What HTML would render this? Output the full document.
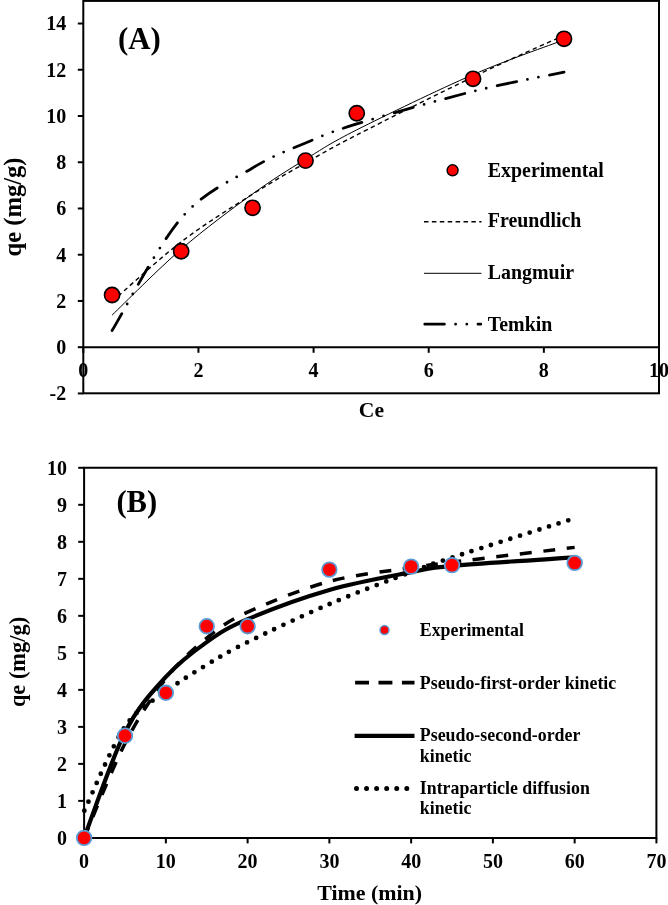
<!DOCTYPE html>
<html><head><meta charset="utf-8"><style>
html,body{margin:0;padding:0;background:#fff;width:668px;height:905px;overflow:hidden}
svg{display:block}
svg{will-change:transform}
</style></head><body>
<svg width="668" height="905" viewBox="0 0 668 905">
<rect width="668" height="905" fill="#fff"/>
<rect x="83.30" y="0.9" width="575.70" height="392.40" fill="none" stroke="#000" stroke-width="2"/>
<line x1="83.30" y1="347.20" x2="659" y2="347.20" stroke="#000" stroke-width="2"/>
<line x1="77.8" y1="393.44" x2="83.30" y2="393.44" stroke="#000" stroke-width="2"/>
<text x="66.2" y="400.24" text-anchor="end" style="font-family:'Liberation Serif',serif;font-weight:bold;font-size:20px">-2</text>
<line x1="77.8" y1="347.20" x2="83.30" y2="347.20" stroke="#000" stroke-width="2"/>
<text x="66.2" y="354.00" text-anchor="end" style="font-family:'Liberation Serif',serif;font-weight:bold;font-size:20px">0</text>
<line x1="77.8" y1="300.96" x2="83.30" y2="300.96" stroke="#000" stroke-width="2"/>
<text x="66.2" y="307.76" text-anchor="end" style="font-family:'Liberation Serif',serif;font-weight:bold;font-size:20px">2</text>
<line x1="77.8" y1="254.72" x2="83.30" y2="254.72" stroke="#000" stroke-width="2"/>
<text x="66.2" y="261.52" text-anchor="end" style="font-family:'Liberation Serif',serif;font-weight:bold;font-size:20px">4</text>
<line x1="77.8" y1="208.48" x2="83.30" y2="208.48" stroke="#000" stroke-width="2"/>
<text x="66.2" y="215.28" text-anchor="end" style="font-family:'Liberation Serif',serif;font-weight:bold;font-size:20px">6</text>
<line x1="77.8" y1="162.24" x2="83.30" y2="162.24" stroke="#000" stroke-width="2"/>
<text x="66.2" y="169.04" text-anchor="end" style="font-family:'Liberation Serif',serif;font-weight:bold;font-size:20px">8</text>
<line x1="77.8" y1="116.00" x2="83.30" y2="116.00" stroke="#000" stroke-width="2"/>
<text x="66.2" y="122.80" text-anchor="end" style="font-family:'Liberation Serif',serif;font-weight:bold;font-size:20px">10</text>
<line x1="77.8" y1="69.76" x2="83.30" y2="69.76" stroke="#000" stroke-width="2"/>
<text x="66.2" y="76.56" text-anchor="end" style="font-family:'Liberation Serif',serif;font-weight:bold;font-size:20px">12</text>
<line x1="77.8" y1="23.52" x2="83.30" y2="23.52" stroke="#000" stroke-width="2"/>
<text x="66.2" y="30.32" text-anchor="end" style="font-family:'Liberation Serif',serif;font-weight:bold;font-size:20px">14</text>
<line x1="83.30" y1="347.20" x2="83.30" y2="352.8" stroke="#000" stroke-width="2"/>
<text x="83.30" y="377.4" text-anchor="middle" style="font-family:'Liberation Serif',serif;font-weight:bold;font-size:20px">0</text>
<line x1="198.44" y1="347.20" x2="198.44" y2="352.8" stroke="#000" stroke-width="2"/>
<text x="198.44" y="377.4" text-anchor="middle" style="font-family:'Liberation Serif',serif;font-weight:bold;font-size:20px">2</text>
<line x1="313.58" y1="347.20" x2="313.58" y2="352.8" stroke="#000" stroke-width="2"/>
<text x="313.58" y="377.4" text-anchor="middle" style="font-family:'Liberation Serif',serif;font-weight:bold;font-size:20px">4</text>
<line x1="428.72" y1="347.20" x2="428.72" y2="352.8" stroke="#000" stroke-width="2"/>
<text x="428.72" y="377.4" text-anchor="middle" style="font-family:'Liberation Serif',serif;font-weight:bold;font-size:20px">6</text>
<line x1="543.86" y1="347.20" x2="543.86" y2="352.8" stroke="#000" stroke-width="2"/>
<text x="543.86" y="377.4" text-anchor="middle" style="font-family:'Liberation Serif',serif;font-weight:bold;font-size:20px">8</text>
<line x1="659.00" y1="347.20" x2="659.00" y2="352.8" stroke="#000" stroke-width="2"/>
<text x="659.00" y="377.4" text-anchor="middle" style="font-family:'Liberation Serif',serif;font-weight:bold;font-size:20px">10</text>
<text x="371.4" y="417.4" text-anchor="middle" style="font-family:'Liberation Serif',serif;font-weight:bold;font-size:21.6px">Ce</text>
<text transform="translate(20.8,207) rotate(-90)" text-anchor="middle" style="font-family:'Liberation Serif',serif;font-weight:bold;font-size:24.6px">qe (mg/g)</text>
<text x="117.9" y="48.8" style="font-family:'Liberation Serif',serif;font-weight:bold;font-size:30.8px">(A)</text>
<path d="M112.08,301.49 C123.60,291.56 157.76,259.77 181.17,241.89 C204.58,224.00 231.83,207.34 252.56,194.19 C273.28,181.03 288.15,172.84 305.52,162.96 C322.89,153.09 328.84,149.30 356.76,134.96 C384.68,120.62 438.51,93.54 473.05,76.94 C507.59,60.34 548.85,42.30 564.01,35.37" fill="none" stroke="#000" stroke-width="1.4" stroke-dasharray="4.4 3.41" stroke-dashoffset="-0.55"/>
<path d="M112.08,315.11 C123.60,304.13 157.76,269.42 181.17,249.23 C204.58,229.03 231.83,208.93 252.56,193.94 C273.28,178.95 288.15,169.96 305.52,159.29 C322.89,148.61 328.84,143.97 356.76,129.86 C384.68,115.76 438.51,89.63 473.05,74.64 C507.59,59.64 548.85,45.69 564.01,39.89" fill="none" stroke="#000" stroke-width="1"/>
<path d="M112.08,330.55 C123.60,311.83 157.76,245.33 181.17,218.23 C204.58,191.13 231.83,180.49 252.56,167.95 C273.28,155.40 288.15,150.30 305.52,142.96 C322.89,135.62 328.84,132.51 356.76,123.92 C384.68,115.32 438.51,100.02 473.05,91.39 C507.59,82.76 548.85,75.35 564.01,72.14" fill="none" stroke="#000" stroke-width="2.8" stroke-linecap="round" stroke-dasharray="19.60 11.20 0 11.20 0 11.20"/>
<circle cx="112.08" cy="295.00" r="7.6" fill="#ff0000" stroke="#000" stroke-width="1.6"/>
<circle cx="181.17" cy="251.25" r="7.6" fill="#ff0000" stroke="#000" stroke-width="1.6"/>
<circle cx="252.56" cy="207.79" r="7.6" fill="#ff0000" stroke="#000" stroke-width="1.6"/>
<circle cx="305.52" cy="160.62" r="7.6" fill="#ff0000" stroke="#000" stroke-width="1.6"/>
<circle cx="356.76" cy="113.23" r="7.6" fill="#ff0000" stroke="#000" stroke-width="1.6"/>
<circle cx="473.05" cy="78.78" r="7.6" fill="#ff0000" stroke="#000" stroke-width="1.6"/>
<circle cx="564.01" cy="38.78" r="7.6" fill="#ff0000" stroke="#000" stroke-width="1.6"/>
<circle cx="452.6" cy="170.3" r="5.5" fill="#ff0000" stroke="#000" stroke-width="1.4"/>
<text x="487.8" y="176.7" style="font-family:'Liberation Serif',serif;font-weight:bold;font-size:19.9px">Experimental</text>
<line x1="424" y1="221.8" x2="481.5" y2="221.8" stroke="#000" stroke-width="1.4" stroke-dasharray="4.5 3.4"/>
<text x="487.8" y="227.4" style="font-family:'Liberation Serif',serif;font-weight:bold;font-size:19.9px">Freundlich</text>
<line x1="424" y1="273.3" x2="481.4" y2="273.3" stroke="#000" stroke-width="1"/>
<text x="487.8" y="279.3" style="font-family:'Liberation Serif',serif;font-weight:bold;font-size:19.9px">Langmuir</text>
<line x1="424.8" y1="324.2" x2="480.8" y2="324.2" stroke="#000" stroke-width="2.8" stroke-linecap="round" stroke-dasharray="19.60 11.20 0 11.20 0 11.20"/>
<text x="487.8" y="330.6" style="font-family:'Liberation Serif',serif;font-weight:bold;font-size:19.9px">Temkin</text>
<polyline points="84.10,837.90 84.10,467.8 656.4,467.8 656.4,837.90 84.10,837.90" fill="none" stroke="#000" stroke-width="2"/>
<line x1="78.2" y1="837.90" x2="84.10" y2="837.90" stroke="#000" stroke-width="2"/>
<text x="67.0" y="844.70" text-anchor="end" style="font-family:'Liberation Serif',serif;font-weight:bold;font-size:20px">0</text>
<line x1="78.2" y1="800.89" x2="84.10" y2="800.89" stroke="#000" stroke-width="2"/>
<text x="67.0" y="807.69" text-anchor="end" style="font-family:'Liberation Serif',serif;font-weight:bold;font-size:20px">1</text>
<line x1="78.2" y1="763.88" x2="84.10" y2="763.88" stroke="#000" stroke-width="2"/>
<text x="67.0" y="770.68" text-anchor="end" style="font-family:'Liberation Serif',serif;font-weight:bold;font-size:20px">2</text>
<line x1="78.2" y1="726.87" x2="84.10" y2="726.87" stroke="#000" stroke-width="2"/>
<text x="67.0" y="733.67" text-anchor="end" style="font-family:'Liberation Serif',serif;font-weight:bold;font-size:20px">3</text>
<line x1="78.2" y1="689.86" x2="84.10" y2="689.86" stroke="#000" stroke-width="2"/>
<text x="67.0" y="696.66" text-anchor="end" style="font-family:'Liberation Serif',serif;font-weight:bold;font-size:20px">4</text>
<line x1="78.2" y1="652.85" x2="84.10" y2="652.85" stroke="#000" stroke-width="2"/>
<text x="67.0" y="659.65" text-anchor="end" style="font-family:'Liberation Serif',serif;font-weight:bold;font-size:20px">5</text>
<line x1="78.2" y1="615.84" x2="84.10" y2="615.84" stroke="#000" stroke-width="2"/>
<text x="67.0" y="622.64" text-anchor="end" style="font-family:'Liberation Serif',serif;font-weight:bold;font-size:20px">6</text>
<line x1="78.2" y1="578.83" x2="84.10" y2="578.83" stroke="#000" stroke-width="2"/>
<text x="67.0" y="585.63" text-anchor="end" style="font-family:'Liberation Serif',serif;font-weight:bold;font-size:20px">7</text>
<line x1="78.2" y1="541.82" x2="84.10" y2="541.82" stroke="#000" stroke-width="2"/>
<text x="67.0" y="548.62" text-anchor="end" style="font-family:'Liberation Serif',serif;font-weight:bold;font-size:20px">8</text>
<line x1="78.2" y1="504.81" x2="84.10" y2="504.81" stroke="#000" stroke-width="2"/>
<text x="67.0" y="511.61" text-anchor="end" style="font-family:'Liberation Serif',serif;font-weight:bold;font-size:20px">9</text>
<line x1="78.2" y1="467.80" x2="84.10" y2="467.80" stroke="#000" stroke-width="2"/>
<text x="67.0" y="474.60" text-anchor="end" style="font-family:'Liberation Serif',serif;font-weight:bold;font-size:20px">10</text>
<line x1="84.10" y1="837.90" x2="84.10" y2="843.4" stroke="#000" stroke-width="2"/>
<text x="84.10" y="868.4" text-anchor="middle" style="font-family:'Liberation Serif',serif;font-weight:bold;font-size:20px">0</text>
<line x1="165.86" y1="837.90" x2="165.86" y2="843.4" stroke="#000" stroke-width="2"/>
<text x="165.86" y="868.4" text-anchor="middle" style="font-family:'Liberation Serif',serif;font-weight:bold;font-size:20px">10</text>
<line x1="247.62" y1="837.90" x2="247.62" y2="843.4" stroke="#000" stroke-width="2"/>
<text x="247.62" y="868.4" text-anchor="middle" style="font-family:'Liberation Serif',serif;font-weight:bold;font-size:20px">20</text>
<line x1="329.38" y1="837.90" x2="329.38" y2="843.4" stroke="#000" stroke-width="2"/>
<text x="329.38" y="868.4" text-anchor="middle" style="font-family:'Liberation Serif',serif;font-weight:bold;font-size:20px">30</text>
<line x1="411.14" y1="837.90" x2="411.14" y2="843.4" stroke="#000" stroke-width="2"/>
<text x="411.14" y="868.4" text-anchor="middle" style="font-family:'Liberation Serif',serif;font-weight:bold;font-size:20px">40</text>
<line x1="492.90" y1="837.90" x2="492.90" y2="843.4" stroke="#000" stroke-width="2"/>
<text x="492.90" y="868.4" text-anchor="middle" style="font-family:'Liberation Serif',serif;font-weight:bold;font-size:20px">50</text>
<line x1="574.66" y1="837.90" x2="574.66" y2="843.4" stroke="#000" stroke-width="2"/>
<text x="574.66" y="868.4" text-anchor="middle" style="font-family:'Liberation Serif',serif;font-weight:bold;font-size:20px">60</text>
<line x1="656.42" y1="837.90" x2="656.42" y2="843.4" stroke="#000" stroke-width="2"/>
<text x="656.42" y="868.4" text-anchor="middle" style="font-family:'Liberation Serif',serif;font-weight:bold;font-size:20px">70</text>
<text x="369.7" y="900.2" text-anchor="middle" style="font-family:'Liberation Serif',serif;font-weight:bold;font-size:21.9px">Time (min)</text>
<text transform="translate(25,662) rotate(-90)" text-anchor="middle" style="font-family:'Liberation Serif',serif;font-weight:bold;font-size:22.4px">qe (mg/g)</text>
<text x="116.4" y="511.8" style="font-family:'Liberation Serif',serif;font-weight:bold;font-size:30.6px">(B)</text>
<path d="M84.10,811.25 C90.91,797.16 111.35,746.61 124.98,726.68 C138.61,706.74 152.23,701.96 165.86,691.64 C179.49,681.32 193.11,673.02 206.74,664.76 C220.37,656.50 227.18,652.21 247.62,642.10 C268.06,631.98 302.13,615.76 329.38,604.08 C356.63,592.40 390.70,579.79 411.14,572.03 C431.58,564.27 424.77,566.48 452.02,557.52 C479.27,548.56 554.22,524.81 574.66,518.27" fill="none" stroke="#000" stroke-width="4.8" stroke-linecap="round" stroke-dasharray="0 10.115" stroke-dashoffset="-0.63"/>
<path d="M84.10,837.90 C90.91,822.17 111.35,770.05 124.98,743.52 C138.61,717.00 152.23,696.34 165.86,678.76 C179.49,661.18 193.11,649.15 206.74,638.05 C220.37,626.94 227.18,621.58 247.62,612.14 C268.06,602.70 302.13,588.82 329.38,581.42 C356.63,574.02 390.70,570.93 411.14,567.73 C431.58,564.52 424.77,565.57 452.02,562.18 C479.27,558.78 554.22,549.84 574.66,547.37" fill="none" stroke="#000" stroke-width="3.5" stroke-dasharray="12 11.6" stroke-dashoffset="0.6"/>
<path d="M84.10,837.90 C90.91,820.32 111.35,759.25 124.98,732.42 C138.61,705.59 152.23,691.96 165.86,676.91 C179.49,661.86 193.11,651.74 206.74,642.12 C220.37,632.49 227.18,627.87 247.62,619.17 C268.06,610.47 302.13,597.77 329.38,589.93 C356.63,582.10 390.70,576.18 411.14,572.17 C431.58,568.16 424.77,568.34 452.02,565.88 C479.27,563.41 554.22,558.78 574.66,557.36" fill="none" stroke="#000" stroke-width="4.2" stroke-linejoin="round"/>
<circle cx="84.10" cy="837.90" r="7.3" fill="#ff0000" stroke="#5b9bd5" stroke-width="1.8"/>
<circle cx="124.98" cy="735.75" r="7.3" fill="#ff0000" stroke="#5b9bd5" stroke-width="1.8"/>
<circle cx="165.86" cy="692.82" r="7.3" fill="#ff0000" stroke="#5b9bd5" stroke-width="1.8"/>
<circle cx="206.74" cy="626.20" r="7.3" fill="#ff0000" stroke="#5b9bd5" stroke-width="1.8"/>
<circle cx="247.62" cy="626.20" r="7.3" fill="#ff0000" stroke="#5b9bd5" stroke-width="1.8"/>
<circle cx="329.38" cy="569.58" r="7.3" fill="#ff0000" stroke="#5b9bd5" stroke-width="1.8"/>
<circle cx="411.14" cy="566.62" r="7.3" fill="#ff0000" stroke="#5b9bd5" stroke-width="1.8"/>
<circle cx="452.02" cy="565.14" r="7.3" fill="#ff0000" stroke="#5b9bd5" stroke-width="1.8"/>
<circle cx="574.66" cy="562.92" r="7.3" fill="#ff0000" stroke="#5b9bd5" stroke-width="1.8"/>
<circle cx="384.5" cy="630.1" r="4.5" fill="#ff0000" stroke="#5b9bd5" stroke-width="1.5"/>
<text x="419.8" y="636.2" style="font-family:'Liberation Serif',serif;font-weight:bold;font-size:17.85px">Experimental</text>
<line x1="355.1" y1="682.6" x2="414.5" y2="682.6" stroke="#000" stroke-width="3.6" stroke-dasharray="13.9 9.5"/>
<text x="419.8" y="688.7" style="font-family:'Liberation Serif',serif;font-weight:bold;font-size:17.85px">Pseudo-first-order kinetic</text>
<line x1="354.6" y1="735.8" x2="414.5" y2="735.8" stroke="#000" stroke-width="4.2"/>
<text x="419.8" y="741.3" style="font-family:'Liberation Serif',serif;font-weight:bold;font-size:17.85px">Pseudo-second-order</text>
<text x="419.8" y="761.7" style="font-family:'Liberation Serif',serif;font-weight:bold;font-size:17.85px">kinetic</text>
<line x1="356.5" y1="788.5" x2="407.6" y2="788.5" stroke="#000" stroke-width="5.0" stroke-linecap="round" stroke-dasharray="0 10.06"/>
<text x="419.8" y="794.0" style="font-family:'Liberation Serif',serif;font-weight:bold;font-size:17.85px">Intraparticle diffusion</text>
<text x="419.8" y="814.4" style="font-family:'Liberation Serif',serif;font-weight:bold;font-size:17.85px">kinetic</text>
</svg>
</body></html>
